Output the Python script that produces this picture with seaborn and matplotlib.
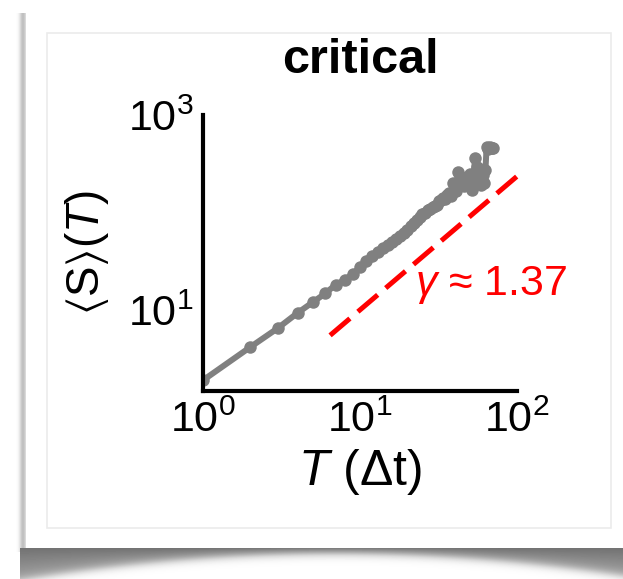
import numpy as np
import matplotlib
matplotlib.use("Agg")
import matplotlib.pyplot as plt
from matplotlib.patches import Rectangle
import seaborn as sns

# ---- data ----
T_vals = list(range(1, 71))
logS_vals = [0.28, 0.62, 0.815, 0.97, 1.08, 1.17, 1.26, 1.31, 1.37, 1.44,
             1.50, 1.55, 1.60, 1.64, 1.67, 1.70, 1.73, 1.76, 1.79, 1.82,
             1.86, 1.89, 1.92, 1.95, 1.98, 2.00, 2.03, 2.04, 2.06, 2.07,
             2.08, 2.12, 2.13, 2.15, 2.14, 2.18, 2.20, 2.17, 2.30, 2.26,
             2.22, 2.42, 2.30, 2.28, 2.33, 2.27, 2.35, 2.36, 2.30, 2.40,
             2.28, 2.23, 2.38, 2.56, 2.40, 2.47, 2.36, 2.45, 2.28, 2.31,
             2.38, 2.30, 2.44, 2.67, 2.65, 2.66, 2.67, 2.66, 2.66, 2.66]
S_vals = [10 ** v for v in logS_vals]

fit_T = [6.45, 107.0]
gamma = 1.37
fit_amp = 0.428
fit_label = r"$\gamma$ ≈ 1.37"

x_ticks = [1, 10, 100]
x_ticklabels = [r"$10^{0}$", r"$10^{1}$", r"$10^{2}$"]
y_ticks = [10, 100, 1000]
y_ticklabels = [r"$10^{1}$", "", r"$10^{3}$"]
title = "critical"
xlabel = r"$T$ ($\Delta$t)"
ylabel = r"$\langle\mathrm{S}\rangle(T)$"

# ---- style ----
sns.set_style("white")
plt.rcParams["font.family"] = ["Liberation Sans", "DejaVu Sans"]
plt.rcParams["text.color"] = "black"
plt.rcParams["axes.labelcolor"] = "black"
plt.rcParams["xtick.color"] = "black"
plt.rcParams["ytick.color"] = "black"
plt.rcParams["mathtext.fontset"] = "custom"
plt.rcParams["mathtext.rm"] = "Liberation Sans"
plt.rcParams["mathtext.it"] = "Liberation Sans:italic"
plt.rcParams["mathtext.bf"] = "Liberation Sans:bold"
plt.rcParams["mathtext.sf"] = "Liberation Sans"
plt.rcParams["mathtext.fallback"] = "stixsans"

W, H = 623, 579
fig = plt.figure(figsize=(W / 100, H / 100), dpi=100)

# ---- decorative card background with shadow ----
bg = fig.add_axes([0, 0, 1, 1], zorder=-10)
yy, xx = np.mgrid[0:H, 0:W].astype(float)
img = np.ones((H, W))
left = (xx >= 12) & (xx < 26) & (yy > 12) & (yy < 552)
img[left] = 1 - 0.25 * np.exp(-((xx[left] - 22.5) / 3.5) ** 2)
bot = (yy >= 548) & (xx >= 20)
d = yy[bot] - 548
thick = 6 + 26 * ((xx[bot] - 335) / 315.0) ** 2
dark = 0.55 / (1 + np.exp((d - thick) / 2.5)) * (1 - 0.35 * np.clip(d / (thick + 1), 0, 1))
img[bot] = 1 - dark
bg.imshow(img, extent=(0, W, H, 0), aspect="auto", cmap="gray", vmin=0, vmax=1,
          interpolation="bilinear")
bg.add_patch(Rectangle((47, 33), 564, 495, fill=False, edgecolor="#ebebeb", lw=1.2))
bg.set_xlim(0, W)
bg.set_ylim(H, 0)
bg.axis("off")

# ---- main axes ----
ax = fig.add_axes([203 / W, 1 - 391 / H, 314 / W, 276 / H])
ax.patch.set_alpha(0)

sns.lineplot(x=T_vals, y=S_vals, ax=ax, color="#808080", marker="o",
             markersize=9, markeredgewidth=0, linewidth=4.3, sort=False,
             estimator=None)

fit_T_arr = np.array(fit_T)
fit_S = fit_amp * fit_T_arr ** gamma
ax.plot(fit_T_arr, fit_S, color="#ff0000", lw=3.6, linestyle=(0, (5.2, 2.1)),
        dash_capstyle="butt", clip_on=False)

ax.set_xscale("log")
ax.set_yscale("log")
ax.set_xlim(1, 100)
ax.set_ylim(10 ** 0.17, 1000)

ax.set_xticks(x_ticks)
ax.set_xticklabels(x_ticklabels)
ax.set_yticks(y_ticks)
ax.set_yticklabels(y_ticklabels)
ax.minorticks_off()

for s in ["top", "right"]:
    ax.spines[s].set_visible(False)
for s in ["left", "bottom"]:
    ax.spines[s].set_linewidth(3)
    ax.spines[s].set_color("black")
ax.tick_params(direction="in", length=5, width=2.5, labelsize=31, pad=7,
               colors="black")

ax.set_title(title, fontsize=35, fontweight="bold", pad=30)
ax.set_xlabel(xlabel, fontsize=36, labelpad=4)
ax.set_ylabel(ylabel, fontsize=33, labelpad=12)

ax.text(0.675, 0.384, fit_label, transform=ax.transAxes, color="#ff0000",
        fontsize=31, ha="left", va="center")

fig.savefig("out.png", dpi=100)
